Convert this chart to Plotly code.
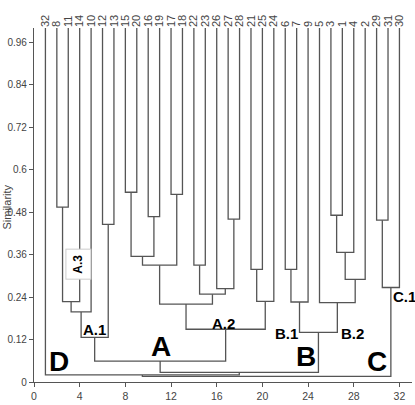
import plotly.graph_objects as go

# ---- data ----
leaf_labels = ["32", "8", "11", "14", "10", "12", "13", "15", "20", "16", "19", "17", "18", "22", "23", "26",
               "27", "28", "21", "25", "24", "6", "7", "9", "5", "3", "1", "4", "2", "29", "31", "30"]
leaf_height = 1.0
# merges: ids < 32 are leaf positions (0-based), ids >= 32 are earlier clusters (32 + k)
merge_left = [1, 32, 33, 5, 34, 7, 9, 37, 11, 39, 13, 16, 15, 42, 41, 18, 47, 46, 36,
              21, 51, 25, 53, 54, 24, 52, 50, 29, 59, 0, 61]
merge_right = [2, 3, 4, 6, 35, 8, 10, 38, 12, 40, 14, 17, 43, 44, 45, 19, 20, 48, 49,
               22, 23, 26, 27, 28, 55, 56, 57, 30, 31, 58, 60]
merge_sim = [0.494, 0.227, 0.198, 0.445, 0.126, 0.536, 0.467, 0.355, 0.530, 0.330, 0.330, 0.460,
             0.264, 0.248, 0.220, 0.318, 0.228, 0.149, 0.059, 0.318, 0.226, 0.471, 0.366, 0.290,
             0.224, 0.140, 0.027, 0.457, 0.267, 0.020, 0.016]

x_ticks = [0, 4, 8, 12, 16, 20, 24, 28, 32]
y_ticks = [0, 0.12, 0.24, 0.36, 0.48, 0.6, 0.72, 0.84, 0.96]
y_ticktext = ["0", "0.12", "0.24", "0.36", "0.48", "0.6", "0.72", "0.84", "0.96"]

group_text = ["D", "A", "B", "C"]
group_x = [2.15, 11.16, 23.8, 30.0]
group_y = [0.058, 0.099, 0.071, 0.057]
sub_text = ["A.1", "A.2", "B.1", "B.2", "C.1"]
sub_x = [5.3, 16.6, 22.1, 27.9, 32.4]
sub_y = [0.147, 0.166, 0.138, 0.138, 0.241]

# ---- build dendrogram lines ----
n = len(leaf_labels)
node_x = [i + 1 for i in range(n)]
node_h = [leaf_height] * n
xs, ys = [], []
for a, b, h in zip(merge_left, merge_right, merge_sim):
    xa, xb = node_x[a], node_x[b]
    xs += [xa, xa, xb, xb, None]
    ys += [node_h[a], h, h, node_h[b], None]
    node_x.append((xa + xb) / 2)
    node_h.append(h)

LINE = "#555555"
FONT = "Arial, Liberation Sans, sans-serif"

fig = go.Figure()
fig.add_trace(go.Scatter(x=xs, y=ys, mode="lines", line=dict(color=LINE, width=1.3),
                         hoverinfo="skip", showlegend=False))
fig.add_trace(go.Scatter(x=[1], y=[0.5], xaxis="x2", mode="markers", marker=dict(opacity=0),
                         hoverinfo="skip", showlegend=False))

annotations = []
for t, x, y in zip(group_text, group_x, group_y):
    annotations.append(dict(x=x, y=y, xref="x", yref="y", text="<b>%s</b>" % t, showarrow=False,
                            font=dict(family=FONT, size=28, color="black")))
for t, x, y in zip(sub_text, sub_x, sub_y):
    annotations.append(dict(x=x, y=y, xref="x", yref="y", text="<b>%s</b>" % t, showarrow=False,
                            font=dict(family=FONT, size=15, color="black")))
annotations.append(dict(x=3.9, y=0.333, xref="x", yref="y", text="<b>A.3</b>", showarrow=False,
                        textangle=-90, bgcolor="white", bordercolor="#cccccc", borderwidth=1,
                        borderpad=5, font=dict(family=FONT, size=12, color="black")))
annotations.append(dict(x=-0.072, y=0.495, xref="paper", yref="paper", text="Similarity",
                        showarrow=False, textangle=-90, xanchor="center", yanchor="middle",
                        font=dict(family=FONT, size=11, color="#444444")))

fig.update_layout(
    width=415, height=405,
    margin=dict(l=34, r=3, t=28, b=17),
    paper_bgcolor="white", plot_bgcolor="white",
    font=dict(family=FONT, size=11, color="#444444"),
    xaxis=dict(range=[0, 33.1], tickvals=x_ticks, showgrid=False, zeroline=False,
               showline=True, linecolor=LINE, linewidth=1.3, ticks="outside", ticklen=4,
               tickcolor=LINE, tickfont=dict(size=10.5, color="#444444")),
    xaxis2=dict(range=[0, 33.1], overlaying="x", side="top", tickvals=list(range(1, n + 1)),
                ticktext=leaf_labels, tickangle=-90, showgrid=False, zeroline=False,
                showline=False, ticks="", tickfont=dict(size=11, color="#444444")),
    yaxis=dict(range=[0, 1.0], tickvals=y_ticks, ticktext=y_ticktext, showgrid=False,
               zeroline=False, showline=True, linecolor=LINE, linewidth=1.3, ticks="outside",
               ticklen=4, tickcolor=LINE, tickfont=dict(size=10, color="#444444")),
    annotations=annotations,
)

fig.write_html("out.html")
